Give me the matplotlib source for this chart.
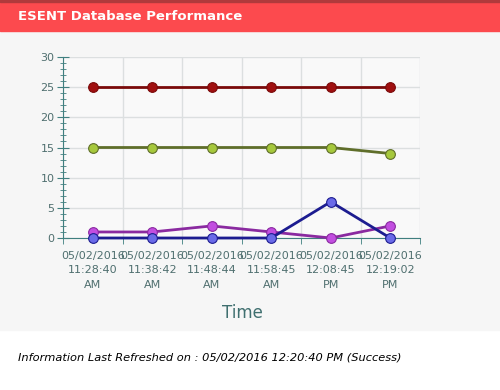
import matplotlib.pyplot as plt
from matplotlib.patches import Rectangle
from matplotlib.ticker import MultipleLocator, FixedLocator

times = ['05/02/2016\n11:28:40\nAM', '05/02/2016\n11:38:42\nAM', '05/02/2016\n11:48:44\nAM',
         '05/02/2016\n11:58:45\nAM', '05/02/2016\n12:08:45\nPM', '05/02/2016\n12:19:02\nPM']
s_red = [25, 25, 25, 25, 25, 25]
s_green = [15, 15, 15, 15, 15, 14]
s_purple = [1, 1, 2, 1, 0, 2]
s_blue = [0, 0, 0, 0, 6, 0]

fig = plt.figure(figsize=(5, 3.9), dpi=100)
fig.patch.set_facecolor('white')

# background bands
fig.patches.append(Rectangle((0, 60/390), 1, 300/390, transform=fig.transFigure,
                             color='#f6f6f6', zorder=-10))
fig.patches.append(Rectangle((0, 1-31/390), 1, 31/390, transform=fig.transFigure,
                             color='#fc4a4e', zorder=-5))
fig.patches.append(Rectangle((0, 1-2/390), 1, 2/390, transform=fig.transFigure,
                             color='#b03a3c', zorder=-4))
fig.text(18/500, 1-16/390, 'ESENT Database Performance', color='white', fontsize=9.5,
         fontweight='bold', va='center', ha='left')

ax = fig.add_axes([63/500, 1-238/390, 357/500, 181/390])
ax.set_facecolor('#f9f9f9')
x = list(range(len(times)))

series = [
    (s_red, '#7a0a0a', '#a01010'),
    (s_green, '#5f6e2a', '#a6c83c'),
    (s_purple, '#8a2aa0', '#c24ee0'),
    (s_blue, '#1c1c90', '#6a6ae8'),
]
for vals, lc, mc in series:
    ax.plot(x, vals, color=lc, lw=2, marker='o', ms=7, mfc=mc, mec=lc, mew=0.8,
            clip_on=False, zorder=3)

ax.set_xlim(-0.5, 5.5)
ax.set_ylim(0, 30)
ax.yaxis.set_major_locator(MultipleLocator(5))
ax.yaxis.set_minor_locator(MultipleLocator(1))
ax.set_xticks(x)
ax.set_xticklabels(times, linespacing=1.62)
ax.xaxis.set_minor_locator(FixedLocator([i - 0.5 for i in range(7)]))

tc = '#4f6f6f'
ax.tick_params(axis='y', which='major', direction='inout', length=8, color='#3f7f7f',
               labelsize=8, labelcolor=tc, pad=2)
ax.tick_params(axis='y', which='minor', direction='inout', length=4, color='#3f7f7f')
ax.tick_params(axis='x', which='major', length=0, labelsize=8, labelcolor=tc, pad=9)
ax.tick_params(axis='x', which='minor', direction='out', length=4, color='#3f7f7f')

ax.grid(True, axis='y', which='major', color='#dcdfe0', lw=1)
ax.grid(True, axis='x', which='minor', color='#dcdfe0', lw=1)
ax.set_axisbelow(True)
for s in ['top', 'right']:
    ax.spines[s].set_visible(False)
ax.spines['left'].set_color('#3f7f7f')
ax.spines['bottom'].set_color('#3f7f7f')

fig.text(242/500, 1-313/390, 'Time', color='#3f6f6f', fontsize=12, ha='center', va='center')
fig.text(18/500, 1-358/390, 'Information Last Refreshed on : 05/02/2016 12:20:40 PM (Success)',
         style='italic', fontsize=8.2, color='black', va='center', ha='left')

fig.savefig('out.png', dpi=100)
